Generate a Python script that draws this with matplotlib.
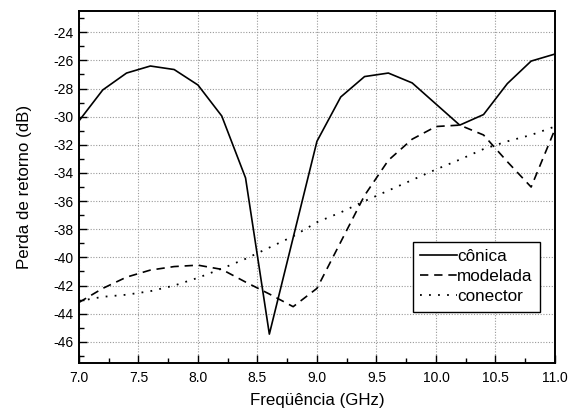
import matplotlib
matplotlib.use("Agg")
import matplotlib.pyplot as plt
from matplotlib.ticker import MultipleLocator, FormatStrFormatter

plt.rcParams['font.family'] = ['Liberation Sans', 'DejaVu Sans']

freq_conica = [7.0, 7.2, 7.4, 7.6, 7.8, 8.0, 8.2, 8.4, 8.6, 8.8, 9.0, 9.2, 9.4, 9.6, 9.8, 10.0, 10.2, 10.4, 10.6, 10.8, 11.0]
conica = [-30.3, -28.1, -26.9, -26.4, -26.65, -27.75, -29.95, -34.35, -45.45, -38.6, -31.75, -28.6, -27.15, -26.9, -27.6, -29.1, -30.6, -29.85, -27.65, -26.05, -25.55]

freq_modelada = [7.0, 7.2, 7.4, 7.6, 7.8, 8.0, 8.2, 8.4, 8.6, 8.8, 9.0, 9.2, 9.4, 9.6, 9.8, 10.0, 10.2, 10.4, 10.6, 10.8, 11.0]
modelada = [-43.2, -42.2, -41.4, -40.9, -40.65, -40.55, -40.85, -41.75, -42.6, -43.5, -42.2, -38.9, -35.6, -33.1, -31.6, -30.7, -30.6, -31.3, -33.2, -35.0, -30.9]

freq_conector = [7.0, 7.2, 7.4, 7.6, 7.8, 8.0, 8.2, 8.4, 8.6, 8.8, 9.0, 9.2, 9.4, 9.6, 9.8, 10.0, 10.2, 10.4, 10.6, 10.8, 11.0]
conector = [-43.1, -42.8, -42.65, -42.4, -42.0, -41.45, -40.8, -40.1, -39.3, -38.5, -37.5, -36.8, -36.0, -35.25, -34.5, -33.75, -33.05, -32.3, -31.75, -31.3, -30.7]

labels = ['cônica', 'modelada', 'conector']

fig = plt.figure(figsize=(5.68, 4.12), dpi=100)
ax = fig.add_axes([0.139, 0.119, 0.838, 0.854])

ax.plot(freq_conica, conica, color='black', lw=1.2, linestyle='-', label=labels[0])
ax.plot(freq_modelada, modelada, color='black', lw=1.2, linestyle=(0, (5, 3.5)), label=labels[1])
ax.plot(freq_conector, conector, color='black', lw=1.3, linestyle=(0, (1, 4)), label=labels[2])

ax.set_xlim(7.0, 11.0)
ax.set_ylim(-47.5, -22.5)
ax.xaxis.set_major_locator(MultipleLocator(0.5))
ax.xaxis.set_minor_locator(MultipleLocator(0.25))
ax.yaxis.set_major_locator(MultipleLocator(2))
ax.yaxis.set_minor_locator(MultipleLocator(1))
ax.xaxis.set_major_formatter(FormatStrFormatter('%.1f'))
ax.yaxis.set_major_formatter(FormatStrFormatter('%d'))

ax.tick_params(which='both', direction='in', top=False, right=False, labelsize=10, width=1)
ax.tick_params(which='major', length=6)
ax.tick_params(which='minor', length=3.5)
ax.tick_params(axis='x', pad=6)
ax.tick_params(axis='y', pad=4)

ax.grid(True, which='major', color='#999999', linestyle=(0, (1, 1.5)), linewidth=0.8)
for s in ax.spines.values():
    s.set_linewidth(1.4)

ax.set_xlabel('Freqüência (GHz)', fontsize=12.2)
ax.set_ylabel('Perda de retorno (dB)', fontsize=12.2)
ax.yaxis.set_label_coords(-0.099, 0.5)
ax.xaxis.set_label_coords(0.5, -0.085)

leg = ax.legend(loc='upper left', bbox_to_anchor=(0.7017, 0.344), borderaxespad=0,
                fontsize=12.3, handlelength=2.15, handletextpad=0.0, labelspacing=0.3,
                borderpad=0.42, fancybox=False, framealpha=1, edgecolor='black')
leg.get_frame().set_linewidth(1.0)

fig.savefig('out.png', dpi=100)
